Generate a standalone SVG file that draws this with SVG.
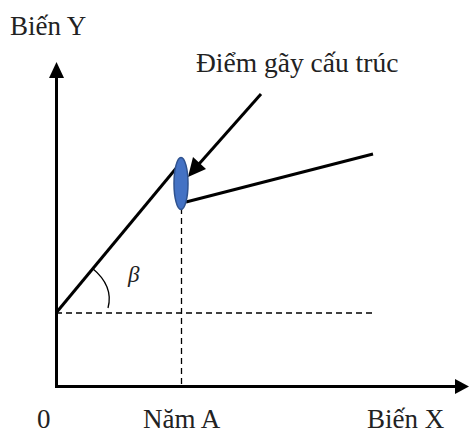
<svg xmlns="http://www.w3.org/2000/svg" width="469" height="434" viewBox="0 0 469 434">
<style>
.t{font-family:"Liberation Serif","Times New Roman",serif;font-size:27px;fill:#222}
.axis{stroke:#000;stroke-width:3;fill:none}
.ln{stroke:#000;stroke-width:3;fill:none}
.dash{stroke:#000;stroke-width:1.3;stroke-dasharray:6 4;fill:none}
</style>
<rect width="469" height="434" fill="#fff"/>
<g id="connectors">
<line class="dash" x1="56" y1="313" x2="373" y2="313"/>
<line class="dash" x1="181.5" y1="208" x2="181.5" y2="386"/>
<line class="axis" x1="56.5" y1="76" x2="56.5" y2="388"/>
<polygon points="56.5,62 49,78 64,78" fill="#000"/>
<line class="axis" x1="55" y1="386.5" x2="457" y2="386.5"/>
<polygon points="469,386.5 455,379 455,394" fill="#000"/>
<line class="ln" x1="56" y1="313" x2="178" y2="166"/>
<line class="ln" x1="186" y1="202" x2="373" y2="154"/>
<line class="ln" x1="261" y1="94" x2="199" y2="164"/>
<polygon points="188,177 193,157 206,169" fill="#000"/>
<path d="M92,268 Q114,286 108,308" stroke="#000" stroke-width="1.3" fill="none"/>
</g>
<g id="break-point">
<ellipse cx="181" cy="183.5" rx="7" ry="26" fill="#4472C4" stroke="#2F528F" stroke-width="1.5"/>
</g>
<g id="labels">
<text class="t" x="10" y="35">Biến Y</text>
<text class="t" x="196" y="72" style="font-size:27.5px">Điểm gãy cấu trúc</text>
<text class="t" x="37" y="428">0</text>
<text class="t" x="143" y="428">Năm A</text>
<text class="t" x="367" y="428">Biến X</text>
<text class="t" x="128" y="282" style="font-size:23px;font-style:italic">β</text>
</g>
</svg>
